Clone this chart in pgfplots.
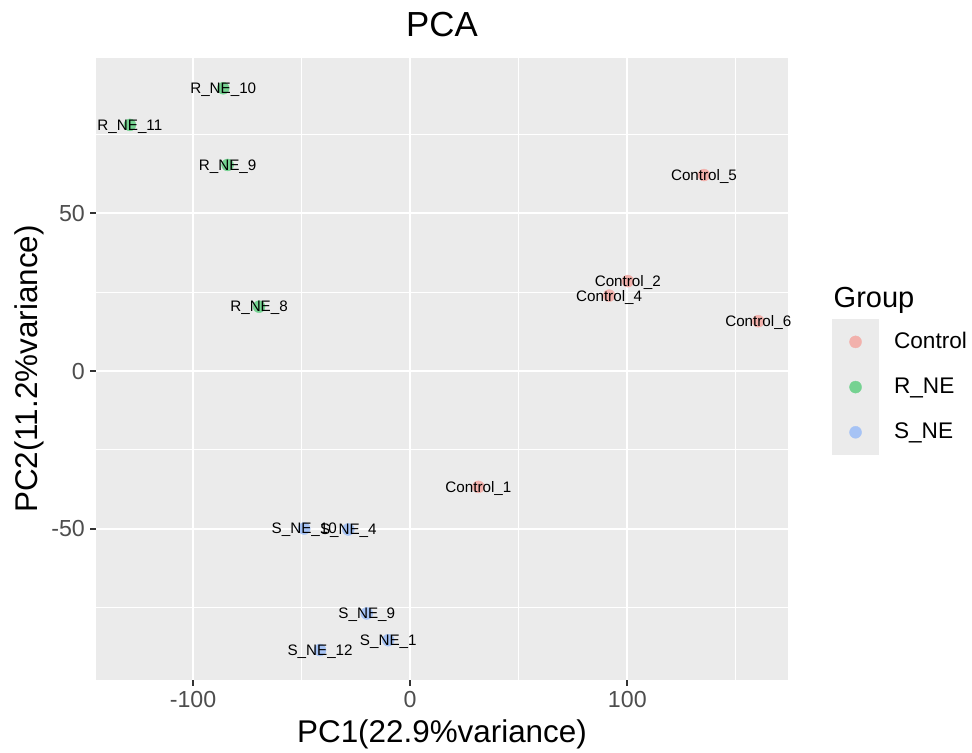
\documentclass[border=0pt]{standalone}
\usepackage{pgfplots}
\pgfplotsset{compat=1.18}
\usepackage{pgfplotstable}
\usepackage{fontspec}
\setmainfont{Liberation Sans}
\definecolor{grey92}{HTML}{EBEBEB}
\definecolor{grey30}{HTML}{4D4D4D}
\definecolor{grey20}{HTML}{333333}
\definecolor{cctrl}{HTML}{F8766D}
\definecolor{crne}{HTML}{00BA38}
\definecolor{csne}{HTML}{619CFF}

\pgfplotstableread{
x y label
135.3 62.1 Control\_5
100.2 28.5 Control\_2
91.6 23.9 Control\_4
160.3 15.8 Control\_6
31.4 -36.7 Control\_1
}\ctrl
\pgfplotstableread{
x y label
-86.1 89.6 R\_NE\_10
-129.1 78.0 R\_NE\_11
-84.1 65.3 R\_NE\_9
-69.6 20.4 R\_NE\_8
}\rne
\pgfplotstableread{
x y label
-48.8 -49.9 S\_NE\_10
-28.5 -50.2 S\_NE\_4
-20.0 -76.8 S\_NE\_9
-10.1 -85.3 S\_NE\_1
-41.5 -88.4 S\_NE\_12
}\sne

\pgfplotsset{
  mylegend/.style={legend image code/.code={
    \fill[grey92, draw=none] (0pt,-11.3pt) rectangle (23.8pt,11.3pt);
    \draw[mark repeat=1, only marks] plot coordinates {(11.9pt,0pt)};
  }},
  grp/.style={only marks, mark=*, mark size=3pt, color=#1!50!grey92,
    mark options={draw=#1!50!grey92, fill=#1!50!grey92, line width=0.2pt},
    nodes near coords, point meta=explicit symbolic, mylegend},
}

\begin{document}
\begin{tikzpicture}
\useasboundingbox (0,0) rectangle (486pt,376.5pt);
\begin{axis}[
  at={(48pt,36.5pt)}, anchor=south west,
  scale only axis, width=346pt, height=311pt,
  xmin=-144.7, xmax=174.0, ymin=-97.9, ymax=99.2,
  axis background/.style={fill=grey92},
  axis line style={draw=none},
  xtick={-100,0,100}, ytick={-50,0,50},
  minor xtick={-50,50,150}, minor ytick={-75,-25,25,75},
  grid=both,
  major grid style={white, line width=1.1pt},
  minor grid style={white, line width=0.55pt},
  tick align=outside, tick pos=left,
  major tick length=2.8pt, minor tick length=0pt,
  major tick style={grey20, line width=1pt},
  /pgf/number format/assume math mode=true,
  tick label style={font=\fontsize{11.6}{13}\selectfont, text=grey30, inner sep=0pt},
  xticklabel style={anchor=base, yshift=-10.85pt},
  yticklabel style={anchor=east, xshift=-2.55pt},
  title={PCA},
  title style={at={(axis description cs:0.5,1.0149)}, anchor=base, inner sep=0pt, font=\fontsize{17.4}{20}\selectfont},
  xlabel={PC1(22.9\%variance)},
  xlabel style={at={(axis description cs:0.5,-0.1008)}, anchor=base, inner sep=0pt, font=\fontsize{15.7}{18}\selectfont},
  ylabel={PC2(11.2\%variance)},
  ylabel style={at={(axis description cs:-0.084,0.5)}, anchor=base, inner sep=0pt, font=\fontsize{15.7}{18}\selectfont},
  clip mode=global,
  nodes near coords align={center},
  every node near coord/.append style={font=\fontsize{7.6}{9}\selectfont, text=black, inner sep=0pt, text depth=0pt, anchor=center},
  legend style={at={(axis description cs:1.0632,0.5799)}, anchor=north west, draw=none, fill=none,
    inner sep=0pt, outer sep=0pt, row sep=0pt, column sep=7.35pt,
    font=\fontsize{11.3}{13}\selectfont, nodes={inner sep=0pt, text=black}},
  legend cell align=left,
]
\addplot[grp=cctrl] table[x=x, y=y, meta=label] {\ctrl};
\addlegendentry{Control}
\addplot[grp=crne] table[x=x, y=y, meta=label] {\rne};
\addlegendentry{R\_NE}
\addplot[grp=csne] table[x=x, y=y, meta=label] {\sne};
\addlegendentry{S\_NE}
\end{axis}
\node[anchor=base west, inner sep=0pt, font=\fontsize{14.5}{17}\selectfont] at (416.65pt,222.85pt) {Group};
\end{tikzpicture}
\end{document}
